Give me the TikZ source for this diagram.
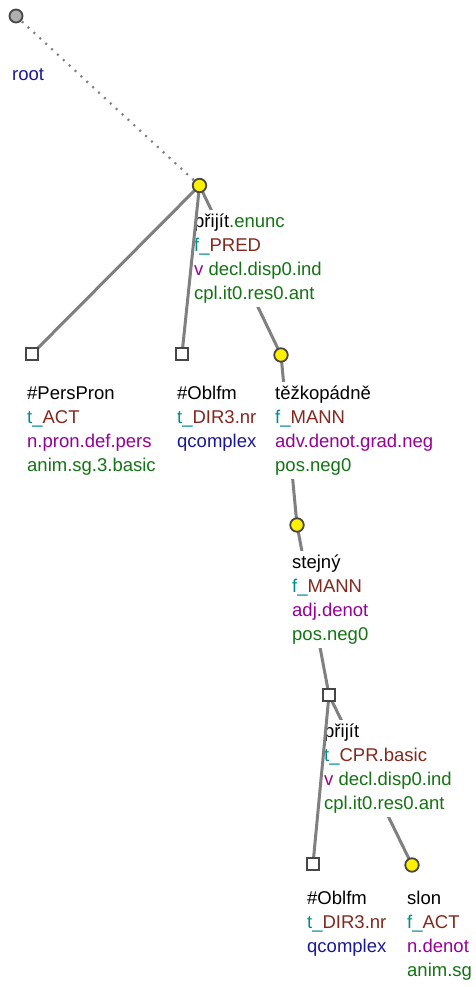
\documentclass[tikz,border=0pt]{standalone}
\usepackage{fontspec}
\setmainfont{Liberation Sans}
\definecolor{cteal}{RGB}{0,140,140}
\definecolor{cbrown}{RGB}{130,40,30}
\definecolor{cpurple}{RGB}{150,0,150}
\definecolor{cgreen}{RGB}{20,115,20}
\definecolor{cblue}{RGB}{25,25,150}
\definecolor{edgegray}{RGB}{128,128,128}
\definecolor{nodeborder}{RGB}{70,70,70}
\definecolor{rootgray}{RGB}{175,175,175}
\definecolor{nodeyellow}{RGB}{255,240,0}
\newcommand{\lbltab}[1]{\begin{tabular}[t]{@{}l@{}}#1\end{tabular}}
\begin{document}
\begin{tikzpicture}[x=1pt,y=-1pt,
  edge/.style={draw=edgegray, line width=3pt},
  rootedge/.style={draw=edgegray, line width=2.2pt, dash pattern=on 2pt off 6pt},
  lbl/.style={anchor=base west, inner sep=0pt, fill=white, font=\fontsize{18.5}{24.2}\selectfont},
  tnode/.style={circle, draw=nodeborder, line width=1.8pt, fill=nodeyellow, minimum size=13.5pt, inner sep=0pt},
  anode/.style={rectangle, draw=nodeborder, line width=2pt, fill=white, minimum size=12pt, inner sep=0pt},
  rnode/.style={circle, draw=nodeborder, line width=1.8pt, fill=rootgray, minimum size=13pt, inner sep=0pt}]
\useasboundingbox[fill=white] (0,0) rectangle (475,987);

% coordinates of tree nodes
\coordinate (croot) at (16,16);
\coordinate (cprijit) at (199.5,185.5);
\coordinate (cpers) at (32,354);
\coordinate (cobl) at (182,354);
\coordinate (ctezko) at (281,355);
\coordinate (cstejny) at (297,525);
\coordinate (cprijitb) at (329,695);
\coordinate (coblb) at (313,864);
\coordinate (cslon) at (412,865);

% edges under labels
\draw[rootedge] (croot) -- (cprijit);
\draw[edge] (cprijit) -- (cpers);
\draw[edge] (cprijit) -- (ctezko);
\draw[edge] (ctezko) -- (cstejny);
\draw[edge] (cstejny) -- (cprijitb);
\draw[edge] (cprijitb) -- (cslon);

% labels
\node[lbl, fill=none] (lroot) at (12,81) {\color{cblue}root};
\node[lbl] (lprijit) at (194,227) {\lbltab{přijít\textcolor{cgreen}{.enunc}\\
  \textcolor{cteal}{f\_}\textcolor{cbrown}{PRED}\\
  \textcolor{cpurple}{v}\ \textcolor{cgreen}{decl.disp0.ind}\\
  \textcolor{cgreen}{cpl.it0.res0.ant}}};
\node[lbl] (lpers) at (27,399) {\lbltab{\#PersPron\\
  \textcolor{cteal}{t\_}\textcolor{cbrown}{ACT}\\
  \textcolor{cpurple}{n.pron.def.pers}\\
  \textcolor{cgreen}{anim.sg.3.basic}}};
\node[lbl] (lobl) at (177,399) {\lbltab{\#Oblfm\\
  \textcolor{cteal}{t\_}\textcolor{cbrown}{DIR3.nr}\\
  \textcolor{cblue}{qcomplex}}};
\node[lbl] (ltezko) at (275,399) {\lbltab{těžkopádně\\
  \textcolor{cteal}{f\_}\textcolor{cbrown}{MANN}\\
  \textcolor{cpurple}{adv.denot.grad.neg}\\
  \textcolor{cgreen}{pos.neg0}}};
\node[lbl] (lstejny) at (292,568) {\lbltab{stejný\\
  \textcolor{cteal}{f\_}\textcolor{cbrown}{MANN}\\
  \textcolor{cpurple}{adj.denot}\\
  \textcolor{cgreen}{pos.neg0}}};
\node[lbl] (lprijitb) at (324,737) {\lbltab{přijít\\
  \textcolor{cteal}{t\_}\textcolor{cbrown}{CPR.basic}\\
  \textcolor{cpurple}{v}\ \textcolor{cgreen}{decl.disp0.ind}\\
  \textcolor{cgreen}{cpl.it0.res0.ant}}};
\node[lbl] (loblb) at (307,904) {\lbltab{\#Oblfm\\
  \textcolor{cteal}{t\_}\textcolor{cbrown}{DIR3.nr}\\
  \textcolor{cblue}{qcomplex}}};
\node[lbl] (lslon) at (407,904) {\lbltab{slon\\
  \textcolor{cteal}{f\_}\textcolor{cbrown}{ACT}\\
  \textcolor{cpurple}{n.denot}\\
  \textcolor{cgreen}{anim.sg}}};

% edges over labels
\draw[edge] (cprijit) -- (cobl);
\draw[edge] (cprijitb) -- (coblb);

% node markers
\node[rnode] (root) at (croot) {};
\node[tnode] (prijit) at (cprijit) {};
\node[anode] (pers) at (cpers) {};
\node[anode] (obl) at (cobl) {};
\node[tnode] (tezko) at (ctezko) {};
\node[tnode] (stejny) at (cstejny) {};
\node[anode] (prijitb) at (cprijitb) {};
\node[anode] (oblb) at (coblb) {};
\node[tnode] (slon) at (cslon) {};
\end{tikzpicture}
\end{document}
